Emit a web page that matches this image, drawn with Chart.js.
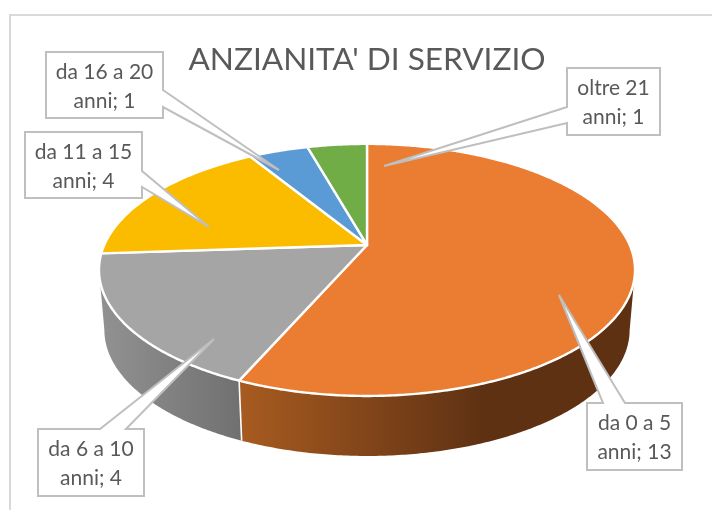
<!DOCTYPE html>
<html><head><meta charset="utf-8">
<style>html,body{margin:0;padding:0;background:#fff}canvas{display:block}</style>
<script src="https://cdn.jsdelivr.net/npm/chart.js@4/dist/chart.umd.js"></script>
</head><body><canvas id="c" width="712" height="510"></canvas>
<script>
const titleText = "ANZIANITA' DI SERVIZIO";
const categories = ["da 0 a 5 anni","da 6 a 10 anni","da 11 a 15 anni","da 16 a 20 anni","oltre 21 anni"];
const values = [13,4,4,1,1];
const sliceColors = ["#EA7D32","#A5A5A5","#FBBC00","#5B9BD5","#70AD47"];

// appearance of the 3D projection
const PERSPECTIVE = 0.198, Y_SCALE = 121.1, DEPTH = 60, BOTTOM_X = 0.98, R = 262.7;
const wallStops = [
  [[0,"#A85B20"],[0.62,"#5E3113"],[1,"#5E3113"]],
  [[0,"#929292"],[1,"#707070"]]
];
// callout layout: box [x0,y0,x1,y1], wedge base a and b, tip
const calloutLayout = [
  {box:[587,403,682,470], a:[603,403], b:[625,403], tip:[559,295], side:"top"},
  {box:[38,429,144,496], a:[100,429], b:[126,429], tip:[214,339], side:"top"},
  {box:[25,132,142,198], a:[142,171], b:[142,187], tip:[209,227], side:"right"},
  {box:[46,52,163,118], a:[163,90], b:[163,107], tip:[279,170], side:"right"},
  {box:[567,68,660,135], a:[567,107], b:[567,123], tip:[384,166], side:"left"}
];

function project(el, a, bottom){
  const u=Math.cos(a), v=Math.sin(a), w=1-PERSPECTIVE*v;
  let dx=R*u/w, dy=Y_SCALE*v/w;
  if(bottom){dx*=BOTTOM_X; dy+=DEPTH;}
  return [el.x+dx, el.y+dy];
}
function rim(ctx, el, a0, a1, bottom, moveFirst){
  const n=Math.max(2,Math.ceil(Math.abs(a1-a0)/0.01));
  for(let i=0;i<=n;i++){
    const p=project(el,a0+(a1-a0)*i/n,bottom);
    if(i===0&&moveFirst) ctx.moveTo(p[0],p[1]); else ctx.lineTo(p[0],p[1]);
  }
}
// Slices stay the library's own arc elements; only their outline is perspective-projected.
Chart.ArcElement.prototype.draw = function(ctx){
  const o=this.options;
  ctx.save();
  ctx.beginPath();
  ctx.moveTo(this.x,this.y);
  rim(ctx,this,this.startAngle,this.endAngle,false,false);
  ctx.closePath();
  ctx.fillStyle=o.backgroundColor; ctx.fill();
  ctx.strokeStyle=o.borderColor; ctx.lineWidth=o.borderWidth; ctx.lineJoin="round"; ctx.stroke();
  ctx.restore();
};

const walls = {
  id:"walls",
  beforeDatasetsDraw(chart){
    const ctx=chart.ctx, arcs=chart.getDatasetMeta(0).data;
    const lim0=Math.asin(PERSPECTIVE), lim1=Math.PI-lim0;
    ctx.save();
    arcs.forEach((el,i)=>{
      const a0=Math.max(el.startAngle,lim0), a1=Math.min(el.endAngle,lim1);
      if(a1<=a0||!wallStops[i]) return;
      const xs=[project(el,a0,true)[0],project(el,a1,true)[0],project(el,a0,false)[0],project(el,a1,false)[0]];
      const x0=Math.min(...xs), x1=Math.max(...xs);
      const g=ctx.createLinearGradient(x0,0,x1,0);
      const st=wallStops[i];
      st.forEach(s=>g.addColorStop(s[0],s[1]));
      ctx.beginPath();
      rim(ctx,el,a0,a1,false,true);
      rim(ctx,el,a1,a0,true,false);
      ctx.closePath();
      ctx.fillStyle=g; ctx.fill();
    });
    arcs.forEach((el,i)=>{
      if(i===0||!wallStops[i]) return;
      const t=project(el,el.startAngle,false), b=project(el,el.startAngle,true);
      ctx.beginPath(); ctx.moveTo(t[0],t[1]); ctx.lineTo(b[0],b[1]);
      ctx.strokeStyle="#fff"; ctx.lineWidth=1.6; ctx.stroke();
    });
    ctx.restore();
  }
};
const frame = {
  id:"frame",
  beforeDraw(chart){
    const ctx=chart.ctx;
    ctx.save();
    ctx.strokeStyle="#D9D9D9"; ctx.lineWidth=2;
    ctx.beginPath(); ctx.moveTo(10,510); ctx.lineTo(10,15); ctx.lineTo(712,15); ctx.stroke();
    ctx.restore();
  }
};
const callouts = {
  id:"callouts",
  afterDatasetsDraw(chart){
    const ctx=chart.ctx;
    ctx.save();
    calloutLayout.forEach((c,i)=>{
      const [x0,y0,x1,y1]=c.box;
      const pts = c.side==="top" ? [[x0,y0],c.a,c.tip,c.b,[x1,y0],[x1,y1],[x0,y1]]
        : c.side==="right" ? [[x0,y0],[x1,y0],c.a,c.tip,c.b,[x1,y1],[x0,y1]]
        : [[x0,y0],[x1,y0],[x1,y1],[x0,y1],c.b,c.tip,c.a];
      ctx.beginPath();
      pts.forEach((p,k)=>k?ctx.lineTo(p[0],p[1]):ctx.moveTo(p[0],p[1]));
      ctx.closePath();
      ctx.fillStyle="#fff"; ctx.fill();
      ctx.strokeStyle="#BFBFBF"; ctx.lineWidth=2; ctx.lineJoin="miter"; ctx.stroke();
      const words=categories[i].split(" anni");
      ctx.fillStyle="#595959"; ctx.font="21px Lato"; ctx.textAlign="center"; ctx.textBaseline="alphabetic";
      const cx=(x0+x1)/2;
      ctx.fillText(words[0],cx,y0+27);
      ctx.fillText("anni; "+values[i],cx,y0+56);
    });
    ctx.restore();
  }
};

new Chart(document.getElementById("c"),{
  type:"pie",
  data:{labels:categories,datasets:[{data:values,backgroundColor:sliceColors,borderColor:"#fff",borderWidth:2.4,clip:false}]},
  options:{
    responsive:false,animation:false,
    radius:R,
    layout:{padding:{left:22,right:0,top:33,bottom:109}},
    plugins:{
      legend:{display:false},tooltip:{enabled:false},
      title:{display:true,text:titleText,color:"#595959",font:{family:"Lato",size:31.6,weight:"normal"},padding:{top:8,bottom:10}}
    }
  },
  plugins:[frame,walls,callouts]
});
</script></body></html>
